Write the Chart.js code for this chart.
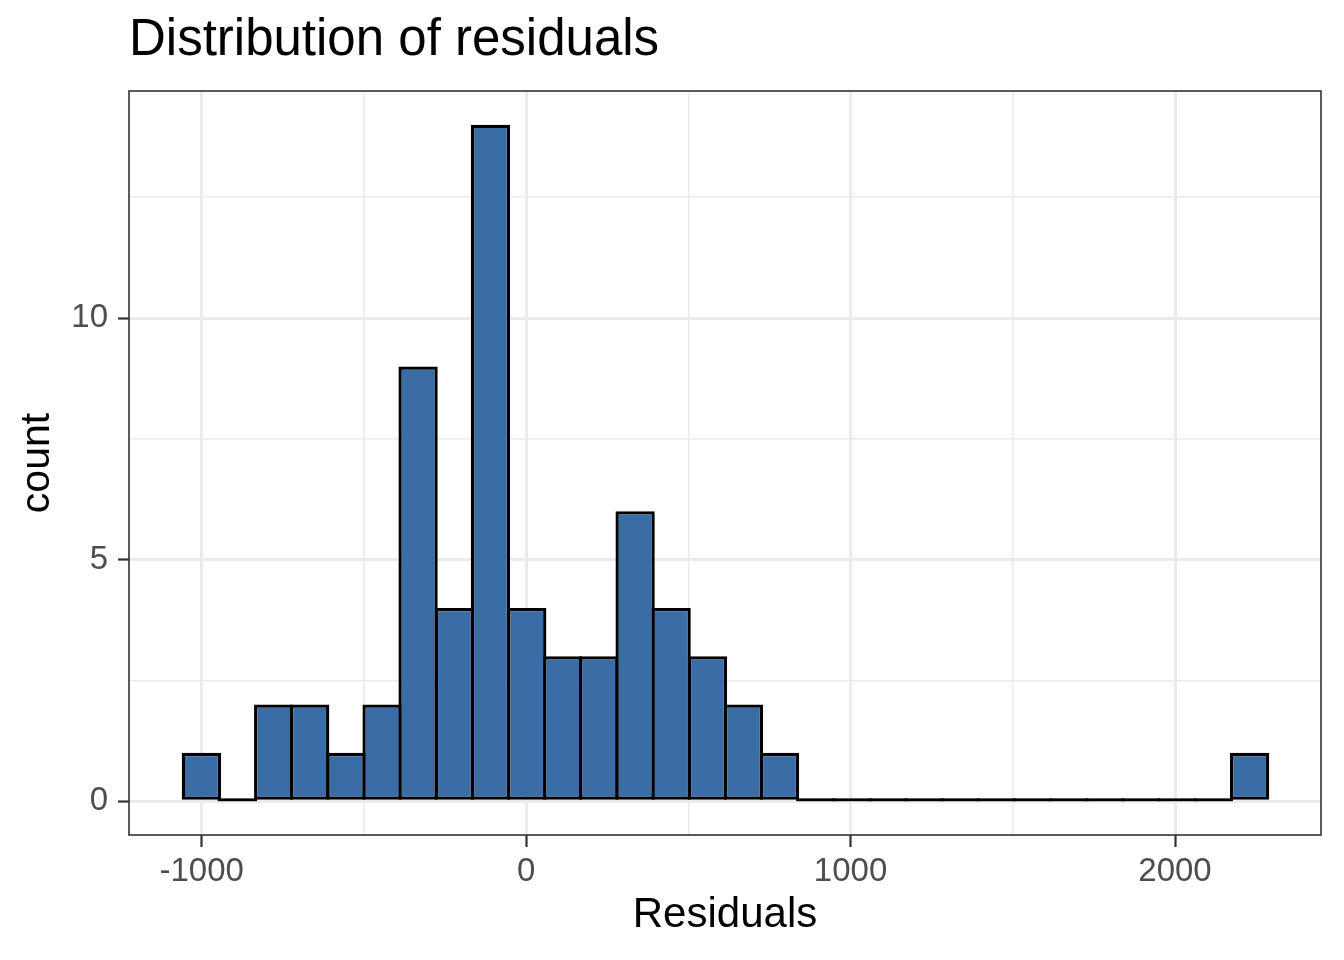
<!DOCTYPE html>
<html><head><meta charset="utf-8">
<script src="https://cdn.jsdelivr.net/npm/chart.js@4.4.0/dist/chart.umd.min.js"></script>
<style>html,body{margin:0;padding:0;background:#fff}canvas{display:block}</style>
</head><body>
<canvas id="c" width="1344" height="960"></canvas>
<script>
// ---- data (30 bins) ----
const binCenters = [-1001, -890, -778, -667, -555, -444, -333, -221, -110, 2,
                    113, 224, 336, 447, 559, 670, 781, 893, 1004, 1116,
                    1227, 1338, 1450, 1561, 1673, 1784, 1895, 2007, 2118, 2230];
const counts = [1, 0, 2, 2, 1, 2, 9, 4, 14, 4,
                3, 3, 6, 4, 3, 2, 1, 0, 0, 0,
                0, 0, 0, 0, 0, 0, 0, 0, 0, 1];
const xGridValues = [-1000, -500, 0, 500, 1000, 1500, 2000];
const xMajorTicks = [-1000, 0, 1000, 2000];
const yGridValues = [0, 2.5, 5, 7.5, 10, 12.5];
const yMajorTicks = [0, 5, 10];
const chartTitle = 'Distribution of residuals';
const xTitle = 'Residuals';
const yTitle = 'count';

const FONT = '"Liberation Sans", Arial, Helvetica, sans-serif';
const GRID = '#EBEBEB';
const TICKC = '#333333';
const BW = 3.3;

const isMajorX = v => xMajorTicks.some(t => Math.abs(t - v) < 1e-6);
const isMajorY = v => yMajorTicks.some(t => Math.abs(t - v) < 1e-6);

const panelBorder = {
  id: 'panelBorder',
  afterDatasetsDraw(chart) {
    const {ctx, scales: {y}} = chart;
    const meta = chart.getDatasetMeta(0);
    const y0 = y.getPixelForValue(0);
    ctx.save();
    ctx.fillStyle = '#000';
    meta.data.forEach((el, i) => {
      if (counts[i] === 0) {
        ctx.fillRect(el.x - el.width / 2, y0 - 2.8, el.width, 2.8);
      }
    });
    ctx.restore();
  },
  afterDraw(chart) {
    const {ctx, chartArea: a} = chart;
    ctx.save();
    ctx.strokeStyle = TICKC;
    ctx.lineWidth = 1.6;
    ctx.strokeRect(a.left, a.top, a.right - a.left, a.bottom - a.top);
    ctx.restore();
  }
};

new Chart(document.getElementById('c'), {
  type: 'bar',
  data: {
    datasets: [{
      data: binCenters.map((c, i) => ({x: c, y: counts[i]})),
      backgroundColor: '#3A6DA6',
      borderColor: '#000000',
      borderWidth: BW,
      borderSkipped: false,
      inflateAmount: 0,
      categoryPercentage: 1.0,
      barPercentage: 1.091
    }]
  },
  options: {
    responsive: false,
    devicePixelRatio: 1,
    animation: false,
    layout: {padding: {left: 0, right: 23, top: 0, bottom: 0}},
    plugins: {
      legend: {display: false},
      tooltip: {enabled: false},
      title: {
        display: true,
        text: chartTitle,
        align: 'start',
        fullSize: false,
        color: '#000',
        font: {family: FONT, size: 51, weight: 'normal', lineHeight: 1.2},
        padding: {top: 10.5, bottom: 19.3}
      }
    },
    scales: {
      x: {
        type: 'linear',
        min: -1224,
        max: 2450,
        offset: false,
        border: {display: false},
        grid: {
          offset: false,
          color: GRID,
          lineWidth: c => isMajorX(c.tick.value) ? 3 : 1.6,
          drawTicks: true,
          tickLength: 12,
          tickWidth: 2.2,
          tickColor: c => isMajorX(c.tick.value) ? TICKC : 'rgba(0,0,0,0)'
        },
        afterBuildTicks: s => { s.ticks = xGridValues.map(v => ({value: v})); },
        ticks: {
          autoSkip: false,
          maxRotation: 0,
          padding: 5,
          color: '#4D4D4D',
          font: {family: FONT, size: 33},
          callback: v => isMajorX(v) ? String(v) : ''
        },
        title: {
          display: true,
          text: xTitle,
          color: '#000',
          font: {family: FONT, size: 42, lineHeight: 1.2},
          padding: {top: 0, bottom: 19.6}
        },
        afterFit: s => { s.height = 125; }
      },
      y: {
        type: 'linear',
        min: -0.7,
        max: 14.7,
        border: {display: false},
        grid: {
          color: GRID,
          lineWidth: c => isMajorY(c.tick.value) ? 3 : 1.6,
          drawTicks: true,
          tickLength: 11,
          tickWidth: 2.2,
          tickColor: c => isMajorY(c.tick.value) ? TICKC : 'rgba(0,0,0,0)'
        },
        afterBuildTicks: s => { s.ticks = yGridValues.map(v => ({value: v})); },
        ticks: {
          padding: 10,
          color: '#4D4D4D',
          font: {family: FONT, size: 33},
          callback: v => isMajorY(v) ? String(v) : ''
        },
        title: {
          display: true,
          text: yTitle,
          color: '#000',
          font: {family: FONT, size: 41, lineHeight: 1.2},
          padding: {top: 13, bottom: 0}
        },
        afterFit: s => { s.width = 129; }
      }
    }
  },
  plugins: [panelBorder]
});
</script>
</body></html>
